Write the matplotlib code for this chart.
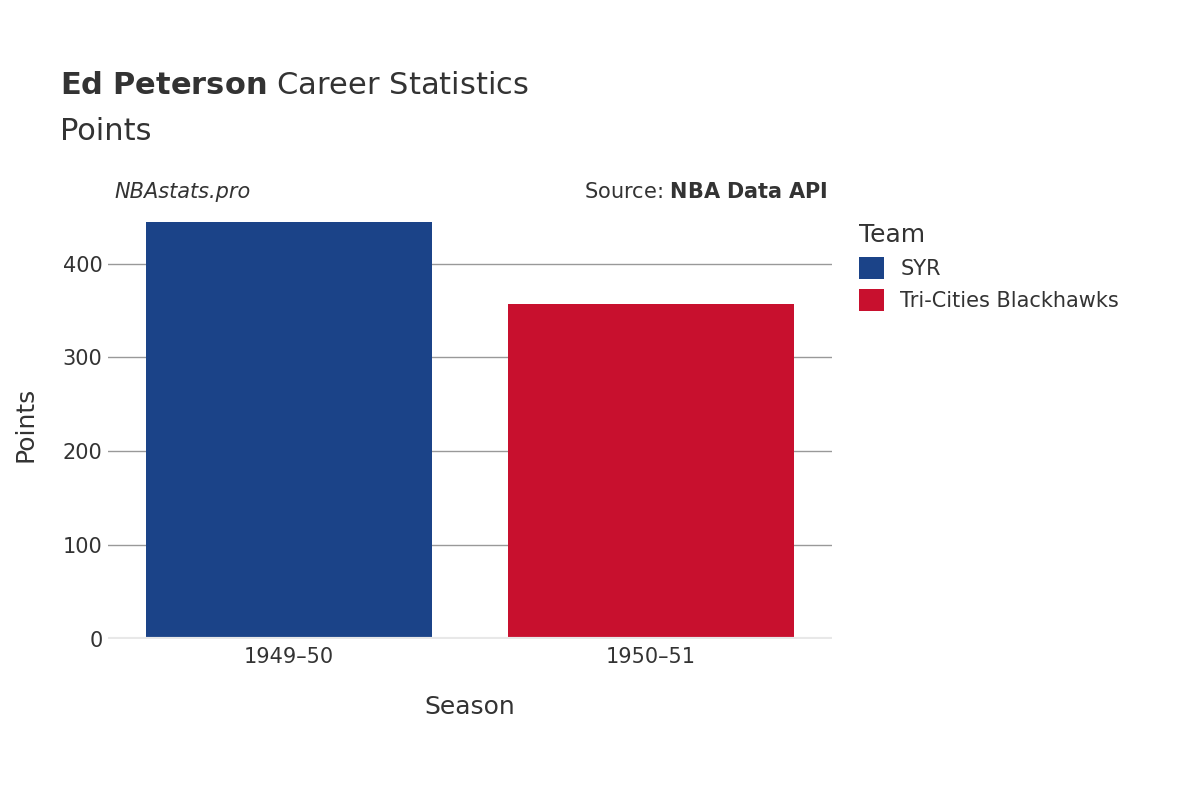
import matplotlib
matplotlib.use("Agg")
import matplotlib.pyplot as plt
from matplotlib.patches import Patch

seasons = ["1949–50", "1950–51"]
teams = ["SYR", "Tri-Cities Blackhawks"]
points = [444, 357]
colors = ["#1b4388", "#c8102e"]
yticks = [0, 100, 200, 300, 400]

fig = plt.figure(figsize=(12, 8), dpi=100)
ax = fig.add_axes([0.09, 0.20125, 0.603, 0.53625])
x = list(range(len(seasons)))
ax.bar(x, points, width=0.79, color=colors, zorder=3)
ax.set_xlim(-0.5, 1.5)
ax.set_ylim(0, 457)
ax.set_yticks(yticks)
ax.set_xticks(x)
ax.set_xticklabels(seasons)
ax.grid(axis="y", color="#999999", linewidth=1, zorder=0)
ax.axhline(0, color="#e8e8e8", linewidth=3, zorder=4)
for s in ax.spines.values():
    s.set_visible(False)
ax.tick_params(axis="both", length=0, labelsize=15, colors="#333333", pad=6)
ax.tick_params(axis="y", pad=4)
ax.set_xlabel("Season", fontsize=18, color="#333333", labelpad=20)
ax.set_ylabel("Points", fontsize=18, color="#333333", labelpad=18)

fig.text(0.05, 0.875, r"$\bf{Ed\ Peterson}$ Career Statistics", fontsize=22, color="#333333", va="bottom")
fig.text(0.05, 0.817, "Points", fontsize=22, color="#333333", va="bottom")
fig.text(0.095, 0.76, "NBAstats.pro", fontsize=15, style="italic", color="#333333", va="center")
fig.text(0.69, 0.76, r"Source: $\bf{NBA\ Data\ API}$", fontsize=15, color="#333333", va="center", ha="right")

handles = [Patch(facecolor=c, label=t) for c, t in zip(colors, teams)]
leg = fig.legend(handles=handles, loc="upper left", bbox_to_anchor=(0.7, 0.745), frameon=False,
                 title="Team", fontsize=15, title_fontsize=18, handlelength=1.2, handleheight=1.2,
                 labelcolor="#333333")
leg.get_title().set_color("#333333")
leg._legend_box.align = "left"
fig.savefig("out.png")
